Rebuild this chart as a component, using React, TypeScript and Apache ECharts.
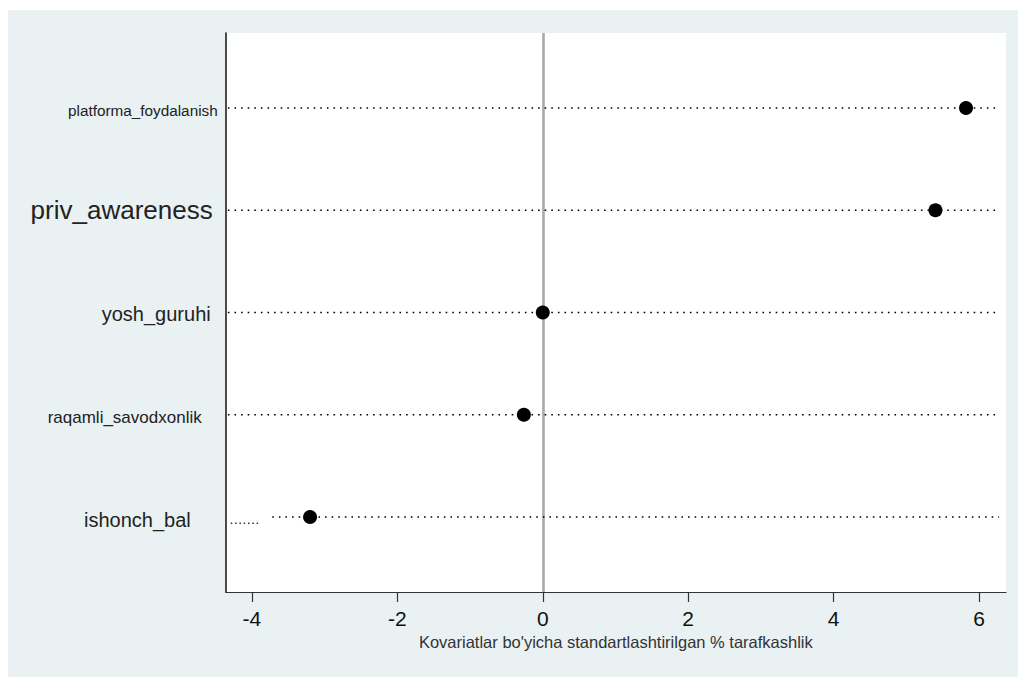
import React, { useEffect, useRef } from "react";
import * as echarts from "echarts";

// Covariates, bottom to top
const categories = [
  "ishonch_bal",
  "raqamli_savodxonlik",
  "yosh_guruhi",
  "priv_awareness",
  "platforma_foydalanish",
];
const rowPositions = [1, 2, 3, 4, 5];
const biasValues = [-3.2, -0.26, 0.0, 5.4, 5.82];
const lineStarts = [-3.72, -4.33, -4.33, -4.33, -4.33];
const lineEnds = [6.275, 6.275, 6.275, 6.275, 6.275];
const extraDotsStart = -4.29;
const extraDotsEnd = -3.91;
const extraDotsRow = 0.94;
const xTicks = [-4, -2, 0, 2, 4, 6];
const xTitle = "Kovariatlar bo'yicha standartlashtirilgan % tarafkashlik";

const labelStyles = [
  { fontSize: 20, padding: [6, 27, 0, 0] },
  { fontSize: 17, padding: [6, 16, 0, 0] },
  { fontSize: 20, padding: [3, 7, 0, 0] },
  { fontSize: 26, padding: [0, 5, 0, 0] },
  { fontSize: 15.3, padding: [6, 0, 0, 0] },
];

export default function App() {
  const ref = useRef<HTMLDivElement>(null);
  useEffect(() => {
    if (!ref.current) return;
    const chart = echarts.init(ref.current, null, { renderer: "svg" });
    const font = "'Liberation Sans', Arial, Helvetica, sans-serif";
    const rich: Record<string, any> = {};
    labelStyles.forEach((s, i) => {
      rich["r" + i] = {
        fontSize: s.fontSize,
        padding: s.padding,
        fontFamily: font,
        color: "#222",
      };
    });

    const lineSeries: any[] = categories.map((c, i) => ({
      type: "line",
      name: c,
      data: [
        [lineStarts[i], rowPositions[i]],
        [lineEnds[i], rowPositions[i]],
      ],
      symbol: "none",
      silent: true,
      lineStyle: { color: "#000", width: 1.6, type: [1.6, 5], opacity: 1 },
      z: 2,
    }));
    lineSeries.push({
      type: "line",
      name: "extra",
      data: [
        [extraDotsStart, extraDotsRow],
        [extraDotsEnd, extraDotsRow],
      ],
      symbol: "none",
      silent: true,
      lineStyle: { color: "#333", width: 1.5, type: [1.5, 2.8] },
      z: 2,
    });

    chart.setOption({
      animation: false,
      backgroundColor: "#e9f1f3",
      textStyle: { fontFamily: font },
      grid: {
        left: 217.7,
        top: 23,
        right: 12,
        bottom: 85,
        show: true,
        backgroundColor: "#ffffff",
        borderWidth: 0,
        containLabel: false,
      },
      xAxis: {
        type: "value",
        min: -4.36,
        max: 6.37,
        splitLine: { show: false },
        axisLine: { show: true, onZero: false, lineStyle: { color: "#333", width: 1.2 } },
        axisTick: {
          show: true,
          customValues: xTicks,
          length: 10,
          lineStyle: { color: "#333", width: 1.2 },
        },
        axisLabel: {
          customValues: xTicks,
          fontSize: 21,
          color: "#111",
          margin: 16,
          fontFamily: font,
        },
        name: xTitle,
        nameLocation: "middle",
        nameGap: 40,
        nameTextStyle: { fontSize: 16.5, color: "#333", fontFamily: font },
      },
      yAxis: {
        type: "value",
        min: 0.267,
        max: 5.733,
        splitLine: { show: false },
        axisLine: { show: true, onZero: false, lineStyle: { color: "#111", width: 1.5 } },
        axisTick: { show: false },
        axisLabel: {
          customValues: rowPositions,
          margin: 8,
          formatter: (v: number) => {
            const i = rowPositions.indexOf(Math.round(v));
            return i >= 0 ? `{r${i}|${categories[i]}}` : "";
          },
          rich,
        },
      },
      series: [
        ...lineSeries,
        {
          type: "scatter",
          name: "bias",
          data: biasValues.map((v, i) => [v, rowPositions[i]]),
          symbol: "circle",
          symbolSize: 14,
          itemStyle: { color: "#000", opacity: 1 },
          z: 5,
          markLine: {
            silent: true,
            symbol: "none",
            label: { show: false },
            lineStyle: { color: "#a9a9a9", width: 2.6, type: "solid", opacity: 1 },
            data: [{ xAxis: 0 }],
            z: 1,
          },
        },
      ],
    });
    return () => chart.dispose();
  }, []);
  return (
    <div
      ref={ref}
      style={{ position: "fixed", left: 8, top: 10, width: 1010, height: 667 }}
    />
  );
}
